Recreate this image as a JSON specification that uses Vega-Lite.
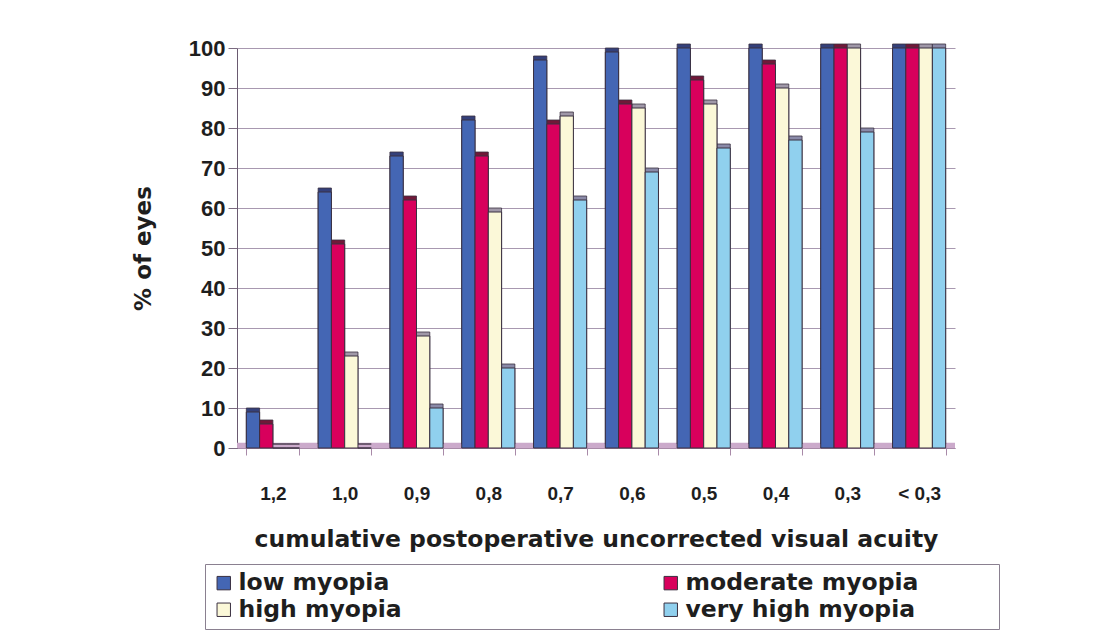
{
  "$schema": "https://vega.github.io/schema/vega-lite/v6.json",
  "width": 718,
  "height": 400,
  "autosize": {"type": "none"},
  "padding": {"left": 237, "top": 48, "right": 139, "bottom": 196},
  "background": "white",
  "config": {
    "view": {"stroke": null},
    "font": "Liberation Sans",
    "axisX": {
      "labelAngle": 0,
      "labelFont": "Liberation Sans",
      "labelFontWeight": "bold",
      "labelFontSize": 19,
      "labelColor": "#1e1e1e",
      "labelPadding": 29,
      "tickBand": "extent",
      "tickSize": 7,
      "tickColor": "#a88aa8",
      "domainColor": "#a88aa8",
      "grid": false,
      "titleFont": "DejaVu Sans",
      "titleFontSize": 23.5,
      "titleFontWeight": "bold",
      "titleColor": "#1e1e1e",
      "titlePadding": 24
    },
    "axisY": {
      "tickCount": 10,
      "labelOverlap": false,
      "grid": true,
      "labelFont": "Liberation Sans",
      "labelFontWeight": "bold",
      "labelFontSize": 22,
      "labelColor": "#1e1e1e",
      "labelPadding": 3,
      "tickSize": 9,
      "tickColor": "#7a6a80",
      "domainColor": "#6a5a70",
      "gridColor": "#a898b0",
      "gridWidth": 1,
      "titleFont": "DejaVu Sans",
      "titleFontSize": 23,
      "titleFontWeight": "bold",
      "titleColor": "#1e1e1e",
      "titlePadding": 33
    }
  },
  "data": {
    "values": [
      {"acuity": "1,2", "group": "low myopia", "pct": 9},
      {"acuity": "1,2", "group": "moderate myopia", "pct": 6},
      {"acuity": "1,2", "group": "high myopia", "pct": 0},
      {"acuity": "1,2", "group": "very high myopia", "pct": 0},
      {"acuity": "1,0", "group": "low myopia", "pct": 64},
      {"acuity": "1,0", "group": "moderate myopia", "pct": 51},
      {"acuity": "1,0", "group": "high myopia", "pct": 23},
      {"acuity": "1,0", "group": "very high myopia", "pct": 0},
      {"acuity": "0,9", "group": "low myopia", "pct": 73},
      {"acuity": "0,9", "group": "moderate myopia", "pct": 62},
      {"acuity": "0,9", "group": "high myopia", "pct": 28},
      {"acuity": "0,9", "group": "very high myopia", "pct": 10},
      {"acuity": "0,8", "group": "low myopia", "pct": 82},
      {"acuity": "0,8", "group": "moderate myopia", "pct": 73},
      {"acuity": "0,8", "group": "high myopia", "pct": 59},
      {"acuity": "0,8", "group": "very high myopia", "pct": 20},
      {"acuity": "0,7", "group": "low myopia", "pct": 97},
      {"acuity": "0,7", "group": "moderate myopia", "pct": 81},
      {"acuity": "0,7", "group": "high myopia", "pct": 83},
      {"acuity": "0,7", "group": "very high myopia", "pct": 62},
      {"acuity": "0,6", "group": "low myopia", "pct": 99},
      {"acuity": "0,6", "group": "moderate myopia", "pct": 86},
      {"acuity": "0,6", "group": "high myopia", "pct": 85},
      {"acuity": "0,6", "group": "very high myopia", "pct": 69},
      {"acuity": "0,5", "group": "low myopia", "pct": 100},
      {"acuity": "0,5", "group": "moderate myopia", "pct": 92},
      {"acuity": "0,5", "group": "high myopia", "pct": 86},
      {"acuity": "0,5", "group": "very high myopia", "pct": 75},
      {"acuity": "0,4", "group": "low myopia", "pct": 100},
      {"acuity": "0,4", "group": "moderate myopia", "pct": 96},
      {"acuity": "0,4", "group": "high myopia", "pct": 90},
      {"acuity": "0,4", "group": "very high myopia", "pct": 77},
      {"acuity": "0,3", "group": "low myopia", "pct": 100},
      {"acuity": "0,3", "group": "moderate myopia", "pct": 100},
      {"acuity": "0,3", "group": "high myopia", "pct": 100},
      {"acuity": "0,3", "group": "very high myopia", "pct": 79},
      {"acuity": "< 0,3", "group": "low myopia", "pct": 100},
      {"acuity": "< 0,3", "group": "moderate myopia", "pct": 100},
      {"acuity": "< 0,3", "group": "high myopia", "pct": 100},
      {"acuity": "< 0,3", "group": "very high myopia", "pct": 100}
    ]
  },
  "layer": [
    {
      "data": {"values": [{}]},
      "mark": {"type": "rect", "color": "#cbaacb"},
      "encoding": {
        "y": {"datum": 0, "type": "quantitative", "scale": {"domain": [0, 100]}, "title": "% of eyes"},
        "y2": {"datum": 1.3}
      }
    },
    {
      "mark": {"type": "bar", "xOffset": 8, "yOffset": -4, "stroke": "#3a3040", "strokeWidth": 0.8},
      "encoding": {
        "x": {"field": "acuity", "type": "nominal", "sort": ["1,2", "1,0", "0,9", "0,8", "0,7", "0,6", "0,5", "0,4", "0,3", "< 0,3"], "scale": {"paddingInner": 0.26, "paddingOuter": 0.13}, "title": "cumulative postoperative uncorrected visual acuity"},
        "xOffset": {"field": "group", "type": "nominal", "sort": ["low myopia", "moderate myopia", "high myopia", "very high myopia"]},
        "y": {"field": "pct", "type": "quantitative", "scale": {"domain": [0, 100]}, "title": "% of eyes"},
        "color": {
          "field": "group", "type": "nominal",
          "sort": ["low myopia", "moderate myopia", "high myopia", "very high myopia"],
          "scale": {"domain": ["low myopia", "moderate myopia", "high myopia", "very high myopia"], "range": ["#34407a", "#701838", "#a098a8", "#8a8aa8"]},
          "legend": null
        }
      }
    },
    {
      "mark": {"type": "bar", "xOffset": 3, "stroke": "#3a3040", "strokeWidth": 1},
      "encoding": {
        "x": {"field": "acuity", "type": "nominal", "sort": ["1,2", "1,0", "0,9", "0,8", "0,7", "0,6", "0,5", "0,4", "0,3", "< 0,3"], "scale": {"paddingInner": 0.26, "paddingOuter": 0.13}, "title": "cumulative postoperative uncorrected visual acuity"},
        "xOffset": {"field": "group", "type": "nominal", "sort": ["low myopia", "moderate myopia", "high myopia", "very high myopia"]},
        "y": {"field": "pct", "type": "quantitative", "scale": {"domain": [0, 100]}, "title": "% of eyes"},
        "color": {
          "field": "group", "type": "nominal",
          "sort": ["low myopia", "moderate myopia", "high myopia", "very high myopia"],
          "scale": {"domain": ["low myopia", "moderate myopia", "high myopia", "very high myopia"], "range": ["#4466b4", "#d8005c", "#fbf8d8", "#90d0ee"]},
          "legend": {
            "orient": "none",
            "legendX": -32,
            "legendY": 516,
            "direction": "horizontal",
            "columns": 2,
            "title": null,
            "symbolType": "square",
            "symbolSize": 180,
            "symbolStrokeColor": "#3a3040",
            "symbolStrokeWidth": 1,
            "labelFont": "DejaVu Sans",
            "labelFontSize": 23.5,
            "labelFontWeight": "bold",
            "labelColor": "#1e1e1e",
            "labelLimit": 600,
            "labelOffset": 3,
            "labelExpr": "datum.label + '\u2800\u2800\u2800\u2800'",
            "columnPadding": 183,
            "rowPadding": 2,
            "padding": 7,
            "strokeColor": "#8a8090"
          }
        }
      }
    }
  ],
  "resolve": {"scale": {"color": "independent"}}
}
